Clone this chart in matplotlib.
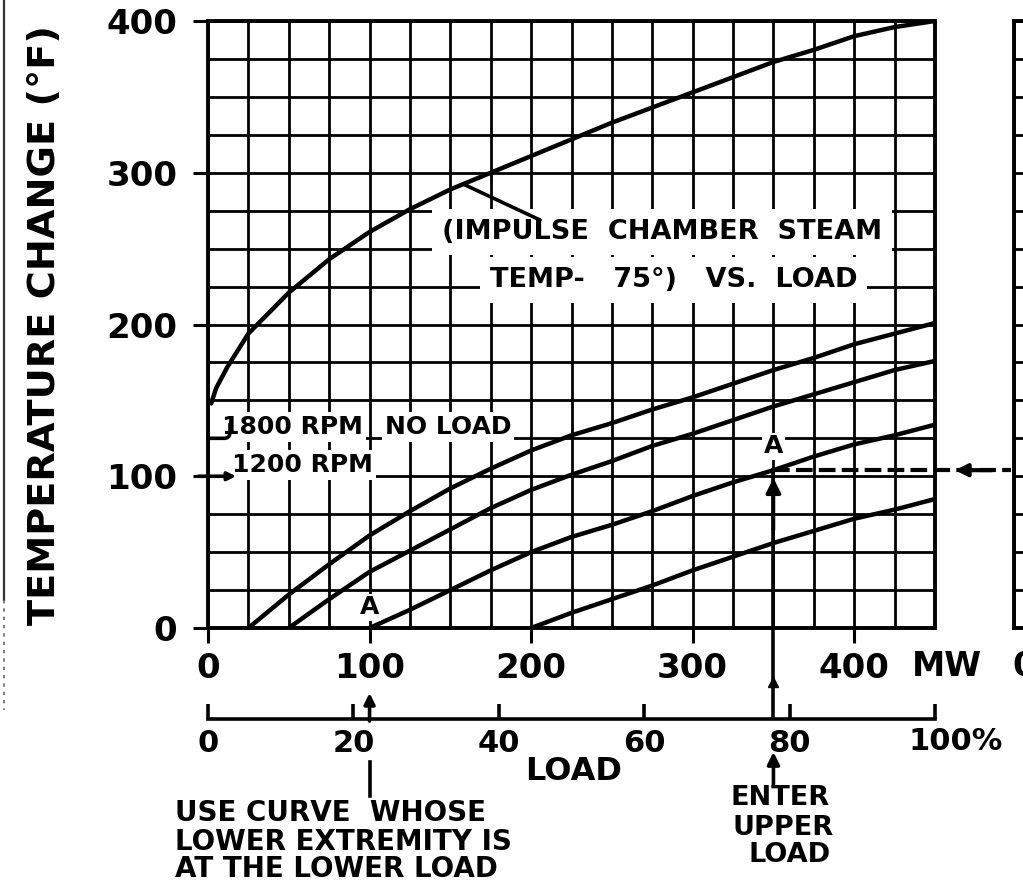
import numpy as np
import matplotlib.pyplot as plt
from matplotlib.lines import Line2D

plt.rcParams['font.family'] = ['DejaVu Sans']
plt.rcParams['font.weight'] = 'bold'

# (impulse chamber steam temp - 75 deg) vs load
imp_x = [2, 5, 12, 25, 50, 75, 100, 125, 150, 175, 200, 225, 250, 275, 300,
         325, 350, 375, 400, 425, 450]
imp_y = [148, 158, 172, 194, 221, 243, 261, 276, 289, 300, 311, 322, 333, 343,
         353, 363, 373, 381, 390, 396, 400]

# curves by lower extremity (MW)
c25_x = [25, 50, 75, 100, 125, 150, 175, 200, 225, 250, 275, 300, 325, 350,
         375, 400, 425, 450]
c25_y = [0, 22, 42, 61, 77, 92, 105, 117, 127, 135, 144, 152, 161, 170, 178,
         187, 194, 201]
c50_x = [50, 75, 100, 125, 150, 175, 200, 225, 250, 275, 300, 325, 350, 375,
         400, 425, 450]
c50_y = [0, 19, 37, 51, 65, 79, 91, 101, 110, 120, 128, 137, 146, 154, 162,
         170, 176]
c100_x = [100, 125, 150, 175, 200, 225, 250, 275, 300, 325, 350, 375, 400, 425, 450]
c100_y = [0, 12, 25, 38, 50, 60, 68, 77, 87, 96, 104, 113, 121, 127, 134]
c200_x = [200, 225, 250, 275, 300, 325, 350, 375, 400, 425, 450]
c200_y = [0, 10, 19, 28, 38, 47, 56, 64, 72, 78, 85]

load_ticks = [0, 100, 200, 300, 400]
temp_ticks = [0, 100, 200, 300, 400]
pct_ticks = [0, 20, 40, 60, 80, 100]
pct_labels = ['0', '20', '40', '60', '80', '']

lower_load = 100
upper_load = 350
no_load_1800 = 125
no_load_1200 = 100

row1_text = '(IMPULSE  CHAMBER  STEAM'
row2_text = 'TEMP-   75°)   VS.  LOAD'
note_lines = ['USE CURVE  WHOSE', 'LOWER EXTREMITY IS', 'AT THE LOWER LOAD']
enter_lines = ['ENTER', 'UPPER', 'LOAD']

W, H = 1023, 886
L, R, T, B = 208, 935, 21, 628


def fx(p):
    return p / W


def fy(p):
    return 1 - p / H


def dx(p):
    # pixel column -> MW
    return (p - L) / (R - L) * 450


def dy(p):
    # pixel row -> deg F
    return (B - p) / (B - T) * 400


fig = plt.figure(figsize=(W / 100, H / 100), dpi=100)
fig.patch.set_facecolor('white')

ax = fig.add_axes([fx(L), fy(B), (R - L) / W, (B - T) / H])
ax.set_xlim(0, 450)
ax.set_ylim(0, 400)
ax.set_xticks(load_ticks)
ax.set_yticks(temp_ticks)
ax.set_xticks(np.arange(0, 451, 25), minor=True)
ax.set_yticks(np.arange(0, 401, 25), minor=True)
ax.grid(which='both', color='black', lw=2.0)
ax.tick_params(which='major', direction='out', length=11, width=2.2,
               labelsize=24.5)
ax.tick_params(axis='x', pad=6)
ax.tick_params(axis='y', pad=11)
ax.tick_params(which='minor', length=0)
for s in ax.spines.values():
    s.set_linewidth(2.8)

# curves
kw = dict(color='black', lw=3.2, solid_capstyle='round')
ax.plot(imp_x, imp_y, **kw)
for cx, cy in [(c25_x, c25_y), (c50_x, c50_y), (c100_x, c100_y), (c200_x, c200_y)]:
    ax.plot(cx, cy, **kw)

# label block knocked out of the grid
ax.text(dx(442), dy(232), row1_text, ha='left', va='center', fontsize=19.5,
        bbox=dict(facecolor='white', edgecolor='none', pad=7), zorder=5)
ax.text(dx(490), dy(280), row2_text, ha='left', va='center', fontsize=19.5,
        bbox=dict(facecolor='white', edgecolor='none', pad=7), zorder=5)

# leader from label to impulse curve
lead_x = 158
ax.annotate('', xy=(lead_x, np.interp(lead_x, imp_x, imp_y)),
            xytext=(dx(540), dy(220)),
            arrowprops=dict(arrowstyle='-', lw=2.6, color='black',
                            shrinkA=0, shrinkB=0), zorder=6)

small_box = dict(facecolor='white', edgecolor='none', pad=2)
ax.text(dx(222), dy(427), '1800 RPM', ha='left', va='center', fontsize=18,
        bbox=small_box, zorder=5)
ax.text(dx(385), dy(427), 'NO LOAD', ha='left', va='center', fontsize=18,
        bbox=small_box, zorder=5)
ax.text(dx(232), dy(465), '1200 RPM', ha='left', va='center', fontsize=18,
        bbox=small_box, zorder=5)
ax.annotate('', xy=(dx(230), dy(424)), xytext=(0, no_load_1800),
            arrowprops=dict(arrowstyle='-', lw=2.6, color='black',
                            connectionstyle='angle,angleA=0,angleB=90,rad=6',
                            shrinkA=0, shrinkB=0), zorder=6)
ax.annotate('', xy=(dx(236), no_load_1200), xytext=(-6, no_load_1200),
            arrowprops=dict(arrowstyle='-|>', lw=2.6, color='black',
                            mutation_scale=12, shrinkA=0, shrinkB=0),
            annotation_clip=False, zorder=6)

# point A markers
a_temp = np.interp(upper_load, c100_x, c100_y)
ax.text(lower_load, dy(607), 'A', ha='center', va='center', fontsize=18,
        bbox=dict(facecolor='white', edgecolor='none', pad=1), zorder=5)
ax.text(upper_load, dy(446), 'A', ha='center', va='center', fontsize=18,
        bbox=dict(facecolor='white', edgecolor='none', pad=1), zorder=5)

# horizontal transfer from A to the next panel
ax.plot([upper_load, dx(1011)], [a_temp, a_temp], color='black', lw=3,
        ls=(0, (4, 1.5)), clip_on=False, zorder=4)
ax.annotate('', xy=(dx(955), a_temp), xytext=(dx(992), a_temp),
            arrowprops=dict(arrowstyle='-|>', lw=3, color='black',
                            mutation_scale=18, shrinkA=0, shrinkB=0),
            annotation_clip=False, zorder=6)

# enter upper load: vertical line up to A
ax.plot([upper_load, upper_load], [dy(717), a_temp], color='black', lw=2.6,
        clip_on=False, zorder=4)
ax.annotate('', xy=(upper_load, dy(478)), xytext=(upper_load, dy(530)),
            arrowprops=dict(arrowstyle='-|>', lw=2.6, color='black',
                            mutation_scale=22, shrinkA=0, shrinkB=0),
            annotation_clip=False, zorder=6)
ax.plot(upper_load, dy(682), marker='^', ms=7, color='black', clip_on=False)
ax.annotate('', xy=(upper_load, dy(752)), xytext=(upper_load, dy(786)),
            arrowprops=dict(arrowstyle='-|>', lw=2.6, color='black',
                            mutation_scale=18, shrinkA=0, shrinkB=0),
            annotation_clip=False)

# lower load pointer
ax.annotate('', xy=(lower_load, dy(693)), xytext=(lower_load, dy(721)),
            arrowprops=dict(arrowstyle='-|>', lw=2.6, color='black',
                            mutation_scale=16, shrinkA=0, shrinkB=0),
            annotation_clip=False)
ax.plot([lower_load, lower_load], [dy(762), dy(796)], color='black', lw=2.6,
        clip_on=False)

# percent load scale
axp = fig.add_axes([fx(L), fy(719), (R - L) / W, 0.0001])
axp.set_xlim(0, 100)
axp.set_ylim(0, 1)
for s in ['top', 'left', 'right']:
    axp.spines[s].set_visible(False)
axp.spines['bottom'].set_linewidth(2.6)
axp.patch.set_visible(False)
axp.set_yticks([])
axp.set_xticks(pct_ticks, pct_labels)
axp.tick_params(axis='x', direction='in', length=11, width=2.6, labelsize=22,
                pad=7)
axp.annotate('100%', xy=(100, 0), xycoords='data', xytext=(-27, -8),
             textcoords='offset pixels', ha='left', va='top', fontsize=22,
             annotation_clip=False)

# next panel, cut off at the page edge
axr = fig.add_axes([fx(1014), fy(B), 0.5, (B - T) / H])
axr.set_xlim(0, 450)
axr.set_ylim(0, 400)
axr.set_xticks(np.arange(0, 451, 25))
axr.set_yticks(np.arange(0, 401, 25))
axr.tick_params(length=0, labelbottom=False, labelleft=False)
axr.grid(color='black', lw=2.0)
for s in axr.spines.values():
    s.set_linewidth(2.8)

# free text
fig.text(fx(45), fy(325), 'TEMPERATURE CHANGE (°F)', rotation=90,
         ha='center', va='center', fontsize=27.5)
fig.text(fx(912), fy(666), 'MW', ha='left', va='center', fontsize=24)
fig.text(fx(1024), fy(666), '0', ha='center', va='center', fontsize=24)
fig.text(fx(574), fy(772), 'LOAD', ha='center', va='center', fontsize=23)
for line, yy in zip(note_lines, [813, 842, 869]):
    fig.text(fx(175), fy(yy), line, ha='left', va='center', fontsize=20)
for line, yy, xx in zip(enter_lines, [798, 828, 855], [780, 783, 790]):
    fig.text(fx(xx), fy(yy), line, ha='center', va='center', fontsize=19.5)

# scanned page edge
fig.add_artist(Line2D([fx(4), fx(4)], [fy(0), fy(600)], color='0.2', lw=1.6))
fig.add_artist(Line2D([fx(4), fx(4)], [fy(600), fy(710)], color='0.4', lw=1.2,
                      ls=(0, (2, 3))))

fig.savefig('out.png', dpi=100, facecolor='white')
